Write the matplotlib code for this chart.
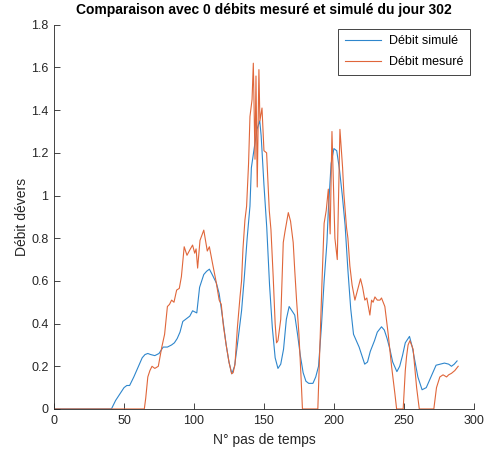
import matplotlib
matplotlib.use('Agg')
import matplotlib.pyplot as plt

# Débit simulé
sim_x = [0, 41, 44, 47, 50, 52, 54, 57, 59, 61, 63, 65, 67, 69, 72, 75, 78, 81, 84, 86, 88,
         90, 92, 94, 97, 99, 102, 104, 107, 109, 111, 113, 116, 118, 121, 123, 125, 127, 129,
         131, 134, 136, 138, 140, 141, 143, 145, 147, 148, 150, 152, 154, 156, 158, 160, 162,
         164, 166, 168, 170, 172, 174, 176, 178, 180, 182, 185, 187, 189, 191, 193, 195, 196,
         198, 200, 202, 204, 206, 208, 210, 212, 214, 216, 218, 220, 222, 224, 226, 229, 231,
         234, 236, 238, 240, 242, 245, 247, 249, 251, 254, 256, 258, 260, 263, 266, 268, 270,
         273, 276, 279, 282, 284, 286, 288]
sim_y = [0, 0, 0.04, 0.07, 0.10, 0.11, 0.11, 0.15, 0.18, 0.21, 0.24, 0.255, 0.26, 0.255, 0.25,
         0.26, 0.29, 0.29, 0.30, 0.31, 0.33, 0.36, 0.41, 0.42, 0.435, 0.46, 0.45, 0.57, 0.63,
         0.645, 0.655, 0.63, 0.59, 0.54, 0.40, 0.30, 0.22, 0.165, 0.20, 0.30, 0.46, 0.62, 0.80,
         0.95, 1.13, 1.22, 1.31, 1.35, 1.28, 1.05, 0.85, 0.58, 0.38, 0.24, 0.19, 0.21, 0.28,
         0.42, 0.48, 0.46, 0.44, 0.35, 0.25, 0.17, 0.13, 0.12, 0.12, 0.15, 0.20, 0.38, 0.60,
         0.78, 0.93, 1.15, 1.22, 1.21, 1.12, 1.00, 0.86, 0.65, 0.47, 0.35, 0.32, 0.29, 0.25,
         0.21, 0.22, 0.27, 0.32, 0.36, 0.385, 0.37, 0.33, 0.28, 0.22, 0.175, 0.20, 0.25, 0.31,
         0.34, 0.29, 0.22, 0.15, 0.09, 0.10, 0.13, 0.16, 0.205, 0.21, 0.215, 0.21, 0.20, 0.21,
         0.225]

# Débit mesuré
mes_x = [0, 64.5, 65.5, 67, 68.5, 70, 72, 74.5, 77, 79, 81, 82.5, 84, 85.7, 87.6, 89.5, 91, 93,
         95, 97, 99, 100.5, 101.5, 102.6, 104.3, 107, 109.5, 111, 113.3, 115.7, 118, 119.5, 121,
         123, 125, 126.9, 128, 129.3, 131, 132.9, 134, 135, 136.4, 137.6, 139, 140, 141.5, 142.4,
         143.6, 144.3, 145.2, 146.4, 147.1, 148.6, 150, 151.9, 153.8, 155, 156.6, 158, 159, 160,
         162, 163.8, 165, 167.4, 169, 170.9, 172, 173.3, 175, 176.5, 177.5, 188.5, 190, 191.5,
         193, 194.5, 196, 197.3, 198.6, 200.7, 202.4, 204.3, 206.2, 207.1, 209, 210, 211.4, 213,
         215, 217.4, 219, 220.5, 222.1, 223.5, 225.7, 226.9, 228, 229.3, 231, 232.9, 234, 236.4,
         238.8, 241.2, 243.6, 244.8, 249.5, 251, 251.9, 253, 254.3, 256.6, 259.1, 261, 271.4,
         273.3, 275.7, 278, 280.5, 282, 284, 286.4, 288.8]
mes_y = [0, 0, 0.05, 0.15, 0.18, 0.20, 0.19, 0.20, 0.29, 0.35, 0.48, 0.49, 0.51, 0.50, 0.557,
         0.565, 0.62, 0.76, 0.72, 0.745, 0.768, 0.73, 0.75, 0.66, 0.79, 0.838, 0.74, 0.76, 0.68,
         0.60, 0.51, 0.49, 0.39, 0.30, 0.22, 0.165, 0.17, 0.21, 0.38, 0.526, 0.60, 0.75, 0.885,
         0.95, 1.15, 1.37, 1.45, 1.62, 1.17, 1.56, 1.04, 1.59, 1.35, 1.41, 1.21, 1.20, 0.93,
         0.84, 0.62, 0.40, 0.31, 0.32, 0.42, 0.78, 0.83, 0.92, 0.88, 0.78, 0.65, 0.51, 0.35,
         0.15, 0, 0, 0.30, 0.60, 0.87, 0.93, 1.03, 0.82, 1.30, 0.80, 0.70, 1.31, 1.13, 1.01,
         0.85, 0.80, 0.67, 0.58, 0.51, 0.57, 0.61, 0.57, 0.51, 0.52, 0.44, 0.51, 0.50, 0.525,
         0.51, 0.51, 0.52, 0.48, 0.35, 0.20, 0.07, 0, 0, 0.18, 0.245, 0.30, 0.32, 0.28, 0.10,
         0, 0, 0.10, 0.15, 0.16, 0.15, 0.16, 0.167, 0.18, 0.20]

x_ticks = [0, 50, 100, 150, 200, 250, 300]
y_ticks = [0, 0.2, 0.4, 0.6, 0.8, 1, 1.2, 1.4, 1.6, 1.8]
y_labels = ['0', '0.2', '0.4', '0.6', '0.8', '1', '1.2', '1.4', '1.6', '1.8']

plt.rcParams['font.family'] = ['Liberation Sans', 'DejaVu Sans']
grey = '#262626'

fig = plt.figure(figsize=(4.87, 4.59), dpi=100)
ax = fig.add_axes([0.111, 0.109, 0.862, 0.837])

ax.plot(sim_x, sim_y, color='#2E86CC', lw=0.8, label='Débit simulé')
ax.plot(mes_x, mes_y, color='#E0663A', lw=0.8, label='Débit mesuré')

ax.set_xlim(0, 300)
ax.set_ylim(0, 1.8)
ax.set_xticks(x_ticks)
ax.set_yticks(y_ticks)
ax.set_yticklabels(y_labels)
ax.tick_params(direction='in', length=4, width=0.6, colors=grey, labelsize=9, pad=4)
for side in ['top', 'right']:
    ax.spines[side].set_visible(False)
for side in ['left', 'bottom']:
    ax.spines[side].set_color(grey)
    ax.spines[side].set_linewidth(0.6)

ax.set_xlabel('N° pas de temps', fontsize=10, color=grey, labelpad=5)
ax.set_ylabel('Débit dévers', fontsize=10, color=grey, labelpad=1.5)
ax.set_title('Comparaison avec 0 débits mesuré et simulé du jour 302',
             fontsize=10, fontweight='bold', color='black', pad=8)

leg = ax.legend(loc='upper right', fontsize=9, fancybox=False, framealpha=1,
                edgecolor=grey, handlelength=2.9, handletextpad=0.6,
                labelspacing=0.7, borderpad=0.55, borderaxespad=0.3)
leg.get_frame().set_linewidth(0.6)

fig.savefig('out.png', dpi=100)
